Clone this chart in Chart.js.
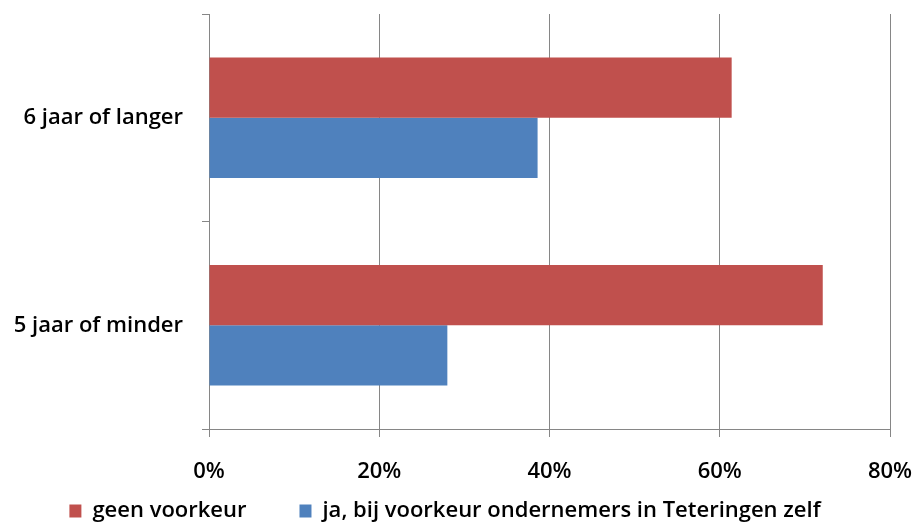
<!DOCTYPE html>
<html>
<head>
<meta charset="utf-8">
<script src="https://cdn.jsdelivr.net/npm/chart.js@4/dist/chart.umd.min.js"></script>
<style>
  html, body { margin: 0; padding: 0; background: #fff; }
  #wrap { width: 918px; height: 524px; }
</style>
</head>
<body>
<div id="wrap"><canvas id="chart"></canvas></div>
<script>
// categories, top to bottom
const categories = ['6 jaar of langer', '5 jaar of minder'];
// series values (percent)
const geenVoorkeur = [61.4, 72.1];
const jaTeteringen = [38.6, 28.0];
const seriesNames = ['geen voorkeur', 'ja, bij voorkeur ondernemers in Teteringen zelf'];
const xTicks = [0, 20, 40, 60, 80];

const gridColor = '#868686';
const font = { family: '"Open Sans", Lato, sans-serif', size: 22, weight: '600' };
const legendGap = 53;

// legend: wide gap between items but a compact height
const legendHeightFix = {
    id: 'legendHeightFix',
    afterInit(chart) {
        const legend = chart.legend;
        const origFit = legend.fit.bind(legend);
        const origDraw = legend.draw.bind(legend);
        legend.fit = function () {
            origFit();
            this.height = 39;
        };
        legend.draw = function () {
            const top = this.top;
            this.top = top - legendGap + 15;
            origDraw();
            this.top = top;
        };
    }
};

const ctx = document.getElementById('chart').getContext('2d');
new Chart(ctx, {
    type: 'bar',
    data: {
        labels: categories,
        datasets: [{
            label: seriesNames[0],
            data: geenVoorkeur,
            backgroundColor: '#C0504D',
            borderWidth: 0
        }, {
            label: seriesNames[1],
            data: jaTeteringen,
            backgroundColor: '#4F81BD',
            borderWidth: 0
        }]
    },
    options: {
        indexAxis: 'y',
        responsive: true,
        maintainAspectRatio: false,
        animation: false,
        datasets: {
            bar: { categoryPercentage: 0.58, barPercentage: 1.0 }
        },
        layout: { padding: { top: 14, right: 28, left: 0, bottom: 0 } },
        scales: {
            x: {
                min: 0,
                max: 80,
                afterBuildTicks: (scale) => { scale.ticks = xTicks.map(v => ({ value: v })); },
                ticks: {
                    color: '#000',
                    font: font,
                    padding: 22,
                    callback: (v) => v + '%'
                },
                grid: { color: gridColor, lineWidth: 1, tickLength: 8 },
                border: { color: gridColor, width: 1 },
                afterFit: (scale) => {
                    scale.height = 56;
                    scale.paddingLeft = 0;
                    scale.paddingRight = 0;
                }
            },
            y: {
                ticks: { color: '#000', font: font, padding: 19 },
                grid: { color: gridColor, drawOnChartArea: false, tickLength: 7, offset: true },
                border: { color: gridColor, width: 1 },
                afterFit: (scale) => {
                    scale.width = 209;
                    scale.paddingTop = 0;
                    scale.paddingBottom = 0;
                }
            }
        },
        plugins: {
            legend: {
                position: 'bottom',
                labels: {
                    color: '#000',
                    font: font,
                    boxWidth: 12,
                    boxHeight: 13,
                    padding: legendGap
                }
            },
            tooltip: { enabled: false }
        }
    },
    plugins: [legendHeightFix]
});
</script>
</body>
</html>
